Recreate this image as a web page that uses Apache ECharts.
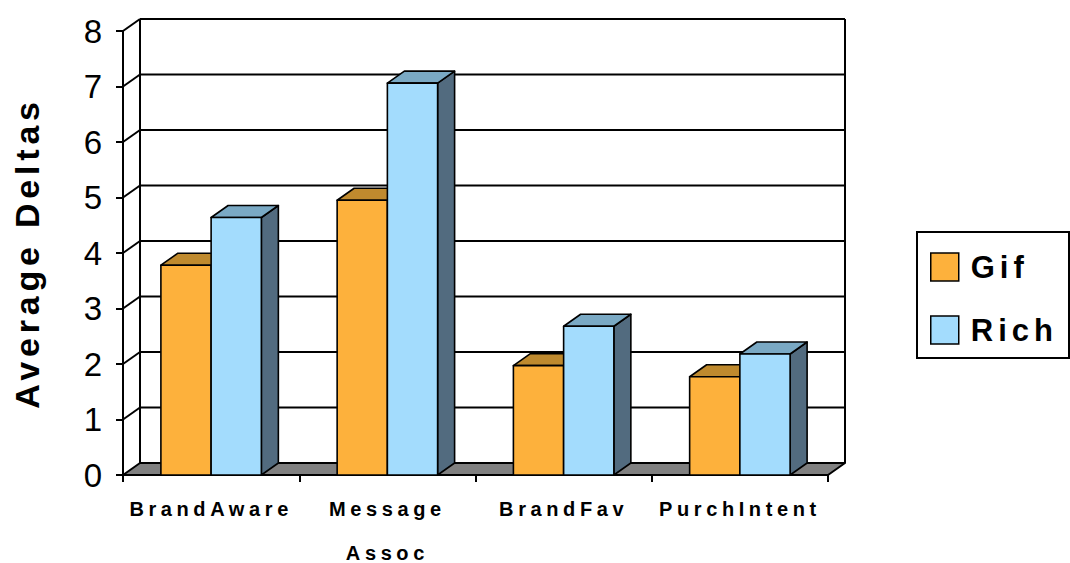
<!DOCTYPE html>
<html>
<head>
<meta charset="utf-8">
<script src="https://cdn.jsdelivr.net/npm/echarts@6/dist/echarts.min.js"></script>
<style>
  html, body { margin: 0; padding: 0; background: #fff; }
  #chart { width: 1070px; height: 563px; }
  /* wide tracking for the category, legend and axis-title texts */
  #chart text[style*="20px"] { letter-spacing: 4.6px; }
  #chart text[style*="31px"] { letter-spacing: 5px; }
  #chart text[style*="34px"] { letter-spacing: 4.8px; }
</style>
</head>
<body>
<div id="chart"></div>
<script>
// Chart data
const categories = ['BrandAware', 'Message Assoc', 'BrandFav', 'PurchIntent'];
const gifValues = [3.78, 4.95, 1.97, 1.77];
const richValues = [4.64, 7.06, 2.68, 2.18];
const yTicks = [0, 1, 2, 3, 4, 5, 6, 7, 8];
const seriesNames = ['Gif', 'Rich'];

// Look of the pseudo-3D box
const FONT = 'Liberation Sans';
const DEPTH_X = 17;
const DEPTH_Y = -12;
const BAR_RATIO = 0.285;
const COLORS = {
  Gif: { front: '#FDB13C', top: '#BF8A2E', side: '#8F6A24' },
  Rich: { front: '#A3DCFD', top: '#7AA9C4', side: '#526B7F' }
};

// Floor, back wall grid lines and left wall diagonals, one data item per y tick
function renderWalls(params, api) {
  const cs = params.coordSys;
  const v = api.value(1);
  const y = api.coord([0, v])[1];
  const x0 = cs.x, x1 = cs.x + cs.width;
  const line = { stroke: '#000', lineWidth: 2 };
  const children = [];
  if (v === yTicks[0]) {
    const yTopBack = api.coord([0, yTicks[yTicks.length - 1]])[1] + DEPTH_Y;
    children.push({
      type: 'polygon',
      shape: { points: [[x0, y], [x1, y], [x1 + DEPTH_X, y + DEPTH_Y], [x0 + DEPTH_X, y + DEPTH_Y]] },
      style: { fill: '#808080', stroke: '#000', lineWidth: 2, lineJoin: 'round' }
    });
    children.push({ type: 'line', shape: { x1: x0 + DEPTH_X, y1: yTopBack, x2: x0 + DEPTH_X, y2: y + DEPTH_Y }, style: line });
    children.push({ type: 'line', shape: { x1: x1 + DEPTH_X, y1: yTopBack, x2: x1 + DEPTH_X, y2: y + DEPTH_Y }, style: line });
  } else {
    children.push({ type: 'line', shape: { x1: x0 + DEPTH_X, y1: y + DEPTH_Y, x2: x1 + DEPTH_X, y2: y + DEPTH_Y }, style: line });
    children.push({ type: 'line', shape: { x1: x0, y1: y, x2: x0 + DEPTH_X, y2: y + DEPTH_Y }, style: line });
  }
  return { type: 'group', children };
}

// Box-shaped column: front face, top face and right side face
function makeBarRenderer(slot, palette) {
  return function (params, api) {
    const cat = api.value(0);
    const val = api.value(1);
    const pt = api.coord([cat, val]);
    const yBase = api.coord([cat, 0])[1];
    const band = api.size([1, 0])[0];
    const w = band * BAR_RATIO;
    const xL = slot === 0 ? pt[0] - w : pt[0];
    const xR = xL + w;
    const yT = pt[1];
    const edge = { stroke: '#000', lineWidth: 1.6, lineJoin: 'round' };
    return {
      type: 'group',
      children: [
        {
          type: 'polygon',
          shape: { points: [[xR, yT], [xR + DEPTH_X, yT + DEPTH_Y], [xR + DEPTH_X, yBase + DEPTH_Y], [xR, yBase]] },
          style: Object.assign({ fill: palette.side }, edge)
        },
        {
          type: 'polygon',
          shape: { points: [[xL, yT], [xR, yT], [xR + DEPTH_X, yT + DEPTH_Y], [xL + DEPTH_X, yT + DEPTH_Y]] },
          style: Object.assign({ fill: palette.top }, edge)
        },
        {
          type: 'rect',
          shape: { x: xL, y: yT, width: w, height: yBase - yT },
          style: Object.assign({ fill: palette.front }, edge)
        }
      ]
    };
  };
}

const chart = echarts.init(document.getElementById('chart'), null, { renderer: 'svg' });

chart.setOption({
  animation: false,
  backgroundColor: '#fff',
  grid: { left: 123, top: 31, width: 705, height: 444, outerBoundsMode: 'none', containLabel: false },
  xAxis: {
    type: 'category',
    data: categories,
    boundaryGap: true,
    axisLine: { show: true, lineStyle: { color: '#000', width: 2 } },
    axisTick: { show: true, length: 7, lineStyle: { color: '#000', width: 2 } },
    axisLabel: {
      interval: 0,
      margin: 12,
      fontFamily: FONT,
      fontSize: 20,
      fontWeight: 'bold',
      color: '#000',
      lineHeight: 44,
      formatter: (v) => v.replace(' ', '\n')
    },
    splitLine: { show: false }
  },
  yAxis: {
    type: 'value',
    min: yTicks[0],
    max: yTicks[yTicks.length - 1],
    interval: 1,
    name: 'Average Deltas',
    nameLocation: 'middle',
    nameRotate: 90,
    nameGap: 79,
    nameTextStyle: { fontFamily: FONT, fontSize: 34, fontWeight: 'bold', color: '#000' },
    axisLine: { show: true, lineStyle: { color: '#000', width: 2 } },
    axisTick: { show: true, length: 7, lineStyle: { color: '#000', width: 2 } },
    axisLabel: { margin: 21, fontFamily: FONT, fontSize: 33, color: '#000', padding: [0, 0, 8, 0] },
    splitLine: { show: false }
  },
  legend: {
    orient: 'vertical',
    left: 930,
    top: 251,
    padding: 0,
    icon: 'rect',
    itemWidth: 28,
    itemHeight: 28,
    itemGap: 31,
    textStyle: { fontFamily: FONT, fontSize: 31, fontWeight: 'bold', color: '#000', lineHeight: 32, padding: [0, 0, 0, 7] },
    data: seriesNames.map((n) => ({
      name: n,
      itemStyle: { color: COLORS[n].front, borderColor: '#000', borderWidth: 1.5 }
    }))
  },
  graphic: [{
    type: 'rect',
    shape: { x: 917, y: 232, width: 152, height: 126 },
    style: { fill: 'none', stroke: '#000', lineWidth: 2 },
    silent: true
  }],
  series: [
    {
      type: 'custom',
      name: 'walls',
      silent: true,
      z: 1,
      renderItem: renderWalls,
      data: yTicks.map((v) => [0, v])
    },
    {
      type: 'custom',
      name: seriesNames[0],
      z: 3,
      itemStyle: { color: COLORS.Gif.front, borderColor: '#000', borderWidth: 1.5 },
      renderItem: makeBarRenderer(0, COLORS.Gif),
      data: gifValues.map((v, i) => [i, v])
    },
    {
      type: 'custom',
      name: seriesNames[1],
      z: 4,
      itemStyle: { color: COLORS.Rich.front, borderColor: '#000', borderWidth: 1.5 },
      renderItem: makeBarRenderer(1, COLORS.Rich),
      data: richValues.map((v, i) => [i, v])
    }
  ]
});
</script>
</body>
</html>
